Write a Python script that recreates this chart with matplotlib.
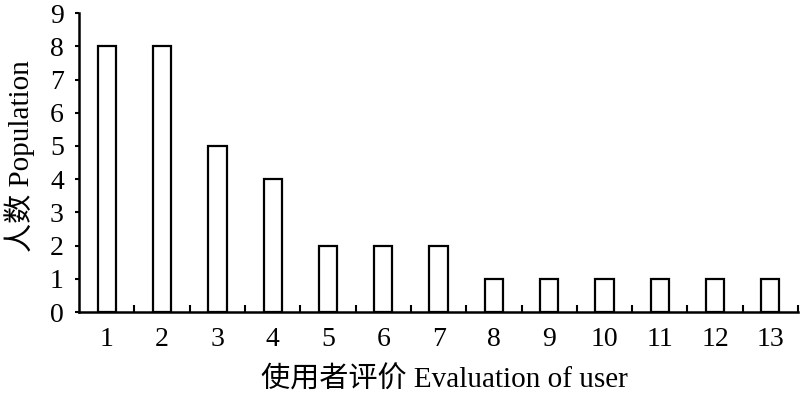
import matplotlib
matplotlib.use("Agg")
import matplotlib.pyplot as plt
from matplotlib.ticker import FixedLocator

plt.rcParams['font.family'] = ['Liberation Serif', 'Noto Sans CJK SC']

categories = [1, 2, 3, 4, 5, 6, 7, 8, 9, 10, 11, 12, 13]
values = [8, 8, 5, 4, 2, 2, 2, 1, 1, 1, 1, 1, 1]
yticks = [0, 1, 2, 3, 4, 5, 6, 7, 8, 9]

fig = plt.figure(figsize=(8, 3.97), dpi=100)
ax = fig.add_axes([0.099, 0.214, 0.8985, 0.753])

ax.bar(categories, values, width=0.33, facecolor='white', edgecolor='black', linewidth=1.6)

ax.set_xlim(0.5, 13.5)
ax.set_ylim(0, 9)
ax.set_xticks(categories)
ax.set_xticklabels([str(c) for c in categories])
ax.xaxis.set_minor_locator(FixedLocator([c + 0.5 for c in categories]))
ax.tick_params(axis='x', which='major', length=0, labelsize=20, pad=11)
ax.tick_params(axis='x', which='minor', direction='in', length=5, width=1.5)
ax.set_yticks(yticks)
ax.tick_params(axis='y', direction='out', length=3, width=1.5, labelsize=20, pad=8)

for s in ['top', 'right']:
    ax.spines[s].set_visible(False)
for s in ['left', 'bottom']:
    ax.spines[s].set_linewidth(1.8)

ax.set_xlabel('使用者评价 Evaluation of user', fontsize=21)
ax.set_ylabel('人数 Population', fontsize=21)
ax.xaxis.set_label_coords(0.556, 0.043, transform=fig.transFigure)
ax.xaxis.label.set_verticalalignment('center')
ax.yaxis.set_label_coords(0.024, 0.607, transform=fig.transFigure)
ax.yaxis.label.set_verticalalignment('center')
ax.yaxis.label.set_horizontalalignment('center')

fig.savefig('out.png', dpi=100)
